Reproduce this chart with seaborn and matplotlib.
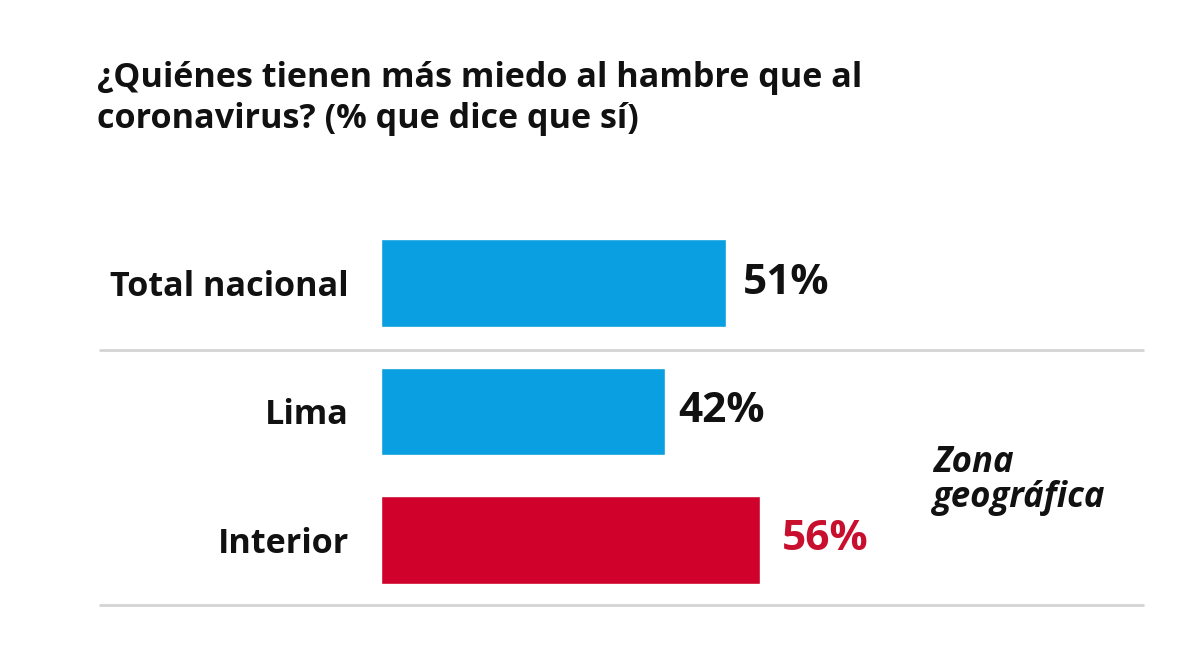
import matplotlib
matplotlib.use('Agg')
import matplotlib.pyplot as plt
from matplotlib.lines import Line2D
import seaborn as sns

# données
categorias = ['Total nacional', 'Lima', 'Interior']
valores = [51, 42, 56]
colores = ['#0A9FE0', '#0A9FE0', '#D0022B']
colores_texto = ['#111111', '#111111', '#C8102E']
titulo = '¿Quiénes tienen más miedo al hambre que al\ncoronavirus? (% que dice que sí)'
nota = 'Zona\ngeográfica'

sns.set_theme(style='white')
plt.rcParams['font.family'] = ['Open Sans', 'DejaVu Sans']

W, H = 1200, 660
fig = plt.figure(figsize=(12, 6.6), dpi=100)
fig.patch.set_facecolor('white')

# axe : 0 % à x=381 px, ~6.77 px par point ; barres centrées à 283, 412.5, 540 px
x0, ppu = 381, 6.77
y0, step = 283, 128.5
ax = fig.add_axes([x0 / W, 0, (W - x0) / W, 1])
ax.set_facecolor('none')

sns.barplot(x=valores, y=categorias, hue=categorias, palette=colores,
            legend=False, width=0.68, saturation=1, ax=ax)

ax.set_xlim(0, (W - x0) / ppu)
ax.set_ylim((H - y0) / step, -y0 / step)
ax.set_xlabel('')
ax.set_ylabel('')
ax.set_xticks([])
sns.despine(ax=ax, left=True, bottom=True)
ax.tick_params(axis='y', length=0, pad=23)
for lab in ax.get_yticklabels():
    lab.set_fontsize(24.6)
    lab.set_fontweight('bold')
    lab.set_color('#111111')

# étiquettes de valeurs
pads = [12, 9, 16]
for cont, pad, col in zip(ax.containers, pads, colores_texto):
    ax.bar_label(cont, fmt='%d%%', padding=pad, fontsize=30.5, fontweight='bold', color=col)

# lignes de séparation
for ypx in [350, 605]:
    fig.add_artist(Line2D([100 / W, 1143 / W], [1 - ypx / H, 1 - ypx / H],
                          color='#d4d4d4', linewidth=2))

# titre
fig.text(97 / W, 1 - 61 / H, titulo, ha='left', va='top', fontsize=24.6,
         fontweight='bold', color='#111111', linespacing=1.25)

# note à droite
fig.text(933 / W, 1 - 445 / H, nota, ha='left', va='top', fontsize=25,
         fontweight='bold', fontstyle='italic', color='#111111', linespacing=0.95)

plt.savefig('out.png', dpi=100, facecolor='white')
